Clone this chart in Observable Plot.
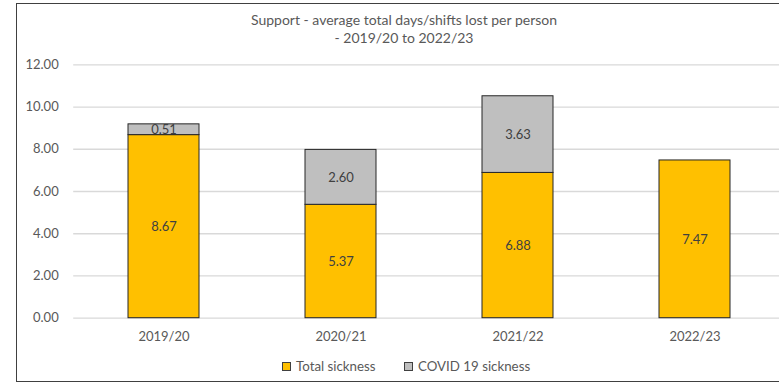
<!DOCTYPE html>
<html>
<head>
<meta charset="utf-8">
<script src="https://cdn.jsdelivr.net/npm/d3@7"></script>
<script src="https://cdn.jsdelivr.net/npm/@observablehq/plot@0.6"></script>
<style>
  html, body { margin: 0; padding: 0; background: #fff; overflow: hidden; }
  #wrap { position: relative; width: 779px; height: 385px; overflow: hidden; font-family: Lato, "Liberation Sans", sans-serif; }
  #border { position: absolute; left: 16px; top: 3px; width: 800px; height: 379px; border: 1px solid #404040; box-sizing: border-box; pointer-events: none; }
  .title { position: absolute; left: 0; width: 808px; text-align: center; color: #595959; font-size: 14px; }
  .leg { position: absolute; top: 358px; font-size: 13.3px; color: #595959; line-height: 16px; white-space: nowrap; }
  .sw { display: inline-block; width: 7px; height: 7px; border: 1px solid #404040; vertical-align: middle; margin-right: 5px; position: relative; top: -1px; }
  #chart svg { position: absolute; left: 0; top: 0; }
</style>
</head>
<body>
<div id="wrap">
  <div id="chart"></div>
  <div id="border"></div>
  <div class="title" style="top:11px">Support - average total days/shifts lost per person</div>
  <div class="title" style="top:29px">- 2019/20 to 2022/23</div>
  <div id="legend"></div>
</div>
<script>
const years = ["2019/20", "2020/21", "2021/22", "2022/23"];
const seriesNames = ["Total sickness", "COVID 19 sickness"];
const totalSickness = [8.67, 5.37, 6.88, 7.47];
const covidSickness = [0.51, 2.60, 3.63, null];
const yTicks = [0, 2, 4, 6, 8, 10, 12];
const seriesColors = ["#FFC000", "#BFBFBF"];

const data = [];
years.forEach((year, i) => {
  data.push({year, series: seriesNames[0], value: totalSickness[i]});
  if (covidSickness[i] != null) data.push({year, series: seriesNames[1], value: covidSickness[i]});
});

const chart = Plot.plot({
  width: 779,
  height: 385,
  marginLeft: 73.2,
  marginRight: 0,
  marginTop: 64.3,
  marginBottom: 67.3,
  style: {fontFamily: "Lato, 'Liberation Sans', sans-serif", fontSize: "13px", color: "#595959", background: "transparent"},
  x: {domain: years, range: [73.2, 784.0], paddingInner: 0.6, paddingOuter: 0.3, align: 0.5, label: null, tickSize: 0, tickPadding: 14},
  y: {domain: [0, 12], ticks: yTicks, tickFormat: d => d.toFixed(2), label: null, tickSize: 0, tickPadding: 15},
  color: {domain: seriesNames, range: seriesColors},
  marks: [
    Plot.ruleY(yTicks, {stroke: "#d9d9d9", strokeWidth: 1.3}),
    Plot.barY(data, Plot.stackY({x: "year", y: "value", fill: "series", stroke: "#262626", strokeWidth: 1})),
    Plot.text(data, Plot.stackY({x: "year", y: "value", text: d => d.value.toFixed(2), fill: "#404040", fontSize: 13})),
    Plot.axisX({tickSize: 0, tickPadding: 14, fill: "#595959", fontSize: 13}),
    Plot.axisY({ticks: yTicks, tickFormat: d => d.toFixed(2), tickSize: 0, tickPadding: 15, fill: "#595959", fontSize: 13})
  ]
});
document.getElementById("chart").appendChild(chart);

const legend = document.getElementById("legend");
const legendX = [282, 404];
seriesNames.forEach((name, i) => {
  const item = document.createElement("div");
  item.className = "leg";
  item.style.left = legendX[i] + "px";
  const sw = document.createElement("span");
  sw.className = "sw";
  sw.style.background = seriesColors[i];
  item.appendChild(sw);
  item.appendChild(document.createTextNode(name));
  legend.appendChild(item);
});
</script>
</body>
</html>
